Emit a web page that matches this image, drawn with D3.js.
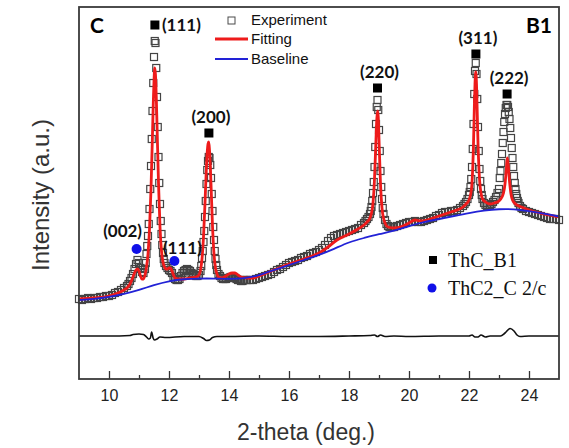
<!DOCTYPE html>
<html>
<head>
<meta charset="utf-8">
<title>XRD ThC B1</title>
<script src="https://d3js.org/d3.v7.min.js"></script>
<style>
  body { margin: 0; background: #fff; }
  text { font-family: "Liberation Sans", Arial, sans-serif; }
</style>
</head>
<body>
<script>
// measured pattern, [2-theta, intensity]
const experiment = [
  [9.0,80],[9.1,79],[9.2,80],[9.3,81],[9.4,80],[9.5,81],[9.6,81],[9.7,82],[9.8,82],[9.9,83],[10.0,83],
  [10.1,84],[10.2,86],[10.3,87],[10.4,89],[10.5,91],[10.6,93],
  [10.65,95],[10.7,98],[10.75,101],[10.8,105],[10.85,110],[10.9,115],[10.95,119],[11.0,116],[11.05,111],
  [11.1,107],[11.15,106],[11.2,110],
  [11.225,116],[11.25,125],[11.275,133],[11.3,143],[11.325,155],[11.35,170],[11.375,190],[11.4,213],
  [11.425,240],[11.45,268],[11.475,296],[11.5,322],[11.525,338],[11.55,336],[11.575,311],[11.6,282],
  [11.625,252],[11.65,222],[11.675,196],[11.7,175],[11.725,158],[11.75,145],[11.775,134],[11.8,126],
  [11.825,120],[11.85,116],
  [11.9,113],[11.95,111],[12.0,109],[12.05,108],[12.1,106],[12.15,102],[12.2,100],[12.25,99],[12.3,99],
  [12.35,100],[12.4,103],[12.45,106],[12.5,108],[12.55,109],[12.6,110],[12.65,109],[12.7,108],[12.75,106],
  [12.8,105],[12.85,104],[12.9,103],[12.95,103],[13.0,104],[13.05,108],
  [13.075,113],[13.1,121],[13.125,128],[13.15,137],[13.175,148],[13.2,162],[13.225,178],[13.25,195],
  [13.275,209],[13.3,218],[13.325,222],[13.35,221],[13.375,214],[13.4,201],[13.425,185],[13.45,168],
  [13.475,152],[13.5,139],[13.525,128],[13.55,120],[13.575,114],
  [13.6,109],[13.65,105],[13.7,103],[13.75,101],[13.8,100],[13.85,100],[13.9,100],[13.95,101],[14.0,101],
  [14.05,102],[14.1,102],[14.15,102],[14.2,101],[14.25,100],[14.3,99],[14.35,99],[14.4,98],[14.45,98],
  [14.5,99],[14.55,99],[14.6,99],
  [14.7,99],[14.8,99],[14.9,100],[15.0,101],[15.1,102],[15.2,103],[15.3,104],[15.4,105],[15.5,107],
  [15.6,109],[15.7,110],[15.8,112],[15.9,114],[16.0,116],[16.1,117],[16.2,118],[16.3,119],[16.4,121],
  [16.5,122],[16.6,123],[16.7,125],[16.8,126],[16.9,127],[17.0,129],[17.1,131],[17.2,134],[17.3,138],
  [17.4,141],[17.5,143],[17.6,144],[17.7,145],[17.8,146],[17.9,147],[18.0,148],[18.1,149],[18.2,150],
  [18.3,151],[18.4,154],
  [18.5,156],[18.55,158],[18.6,160],[18.65,162],[18.7,165],[18.725,168],[18.75,172],[18.775,178],
  [18.8,186],[18.825,197],[18.85,212],[18.875,232],[18.9,255],[18.925,272],[18.95,279],[18.975,269],
  [19.0,249],[19.025,228],[19.05,208],[19.075,192],[19.1,180],[19.125,171],[19.15,165],[19.2,159],
  [19.25,155],[19.3,153],[19.35,152],[19.4,152],[19.45,152],[19.5,152],
  [19.6,153],[19.7,154],[19.8,155],[19.9,156],[20.0,157],[20.1,157],[20.2,158],[20.3,157],[20.4,157],
  [20.5,158],[20.6,159],[20.7,160],[20.8,161],[20.9,163],[21.0,164],[21.1,166],[21.2,167],[21.3,167],
  [21.4,168],[21.5,168],[21.6,169],[21.7,171],
  [21.8,173],[21.85,175],[21.9,177],[21.95,180],[22.0,184],[22.025,187],[22.05,192],[22.075,200],
  [22.1,212],[22.125,230],[22.15,255],[22.175,285],[22.2,308],[22.225,316],[22.25,305],[22.275,280],
  [22.3,252],[22.325,228],[22.35,210],[22.375,198],[22.4,190],[22.425,184],[22.45,180],[22.5,176],
  [22.55,174],[22.6,173],[22.65,173],[22.7,174],[22.75,175],[22.8,177],[22.85,179],[22.9,182],
  [22.95,186],[23.0,190],
  [23.025,201],[23.05,208],[23.075,216],[23.1,225],[23.125,236],[23.15,247],[23.175,257],[23.2,265],
  [23.225,271],[23.25,274],[23.275,274],[23.3,272],[23.325,267],[23.35,260],[23.375,251],[23.4,241],
  [23.425,231],[23.45,221],[23.475,212],[23.5,203],[23.525,196],[23.55,190],[23.575,185],[23.6,181],
  [23.625,178],[23.65,176],[23.7,173],[23.75,171],[23.8,170],[23.9,168],
  [24.0,167],[24.1,166],[24.2,165],[24.3,164],[24.4,163],[24.5,162],[24.6,161],[24.7,160],[24.8,160],
  [24.9,160],[25.0,159]
];

const fitting = [
  [9.0,80],[9.5,81],[10.0,83],[10.3,86],[10.5,89],[10.6,91],[10.7,95],[10.8,102],[10.85,106],[10.9,109],
  [10.95,110],[11.0,108],[11.05,103],[11.1,100],[11.15,100],[11.2,104],[11.25,112],[11.3,125],[11.35,150],
  [11.4,190],[11.45,245],[11.475,275],[11.5,298],[11.525,311],[11.55,304],[11.575,283],[11.6,255],
  [11.65,196],[11.7,152],[11.75,128],[11.8,117],[11.85,112],[11.9,110],[11.95,110],[12.0,111],[12.05,111],
  [12.1,108],[12.15,104],[12.2,101],[12.3,100],[12.5,100],[12.7,101],[12.9,102],[13.0,104],[13.05,109],
  [13.1,120],[13.15,142],[13.2,176],[13.25,214],[13.3,235],[13.325,237],[13.35,229],[13.4,195],[13.45,153],
  [13.5,125],[13.55,111],[13.6,105],[13.65,102],[13.75,101],[13.9,103],[14.0,105],[14.1,106],[14.2,106],
  [14.3,104],[14.4,102],[14.6,101],[14.8,101],[15.0,103],[15.5,109],[16.0,115],[16.5,120],[17.0,126],
  [17.3,132],[17.6,139],[18.0,145],[18.3,150],[18.5,154],[18.6,157],[18.7,161],[18.75,166],[18.8,176],
  [18.85,200],[18.9,240],[18.925,259],[18.95,268],[18.975,262],[19.0,240],[19.05,195],[19.1,171],
  [19.15,161],[19.2,156],[19.3,152],[19.5,151],[19.8,153],[20.0,156],[20.2,159],[20.4,158],[20.6,159],
  [20.8,161],[21.0,163],[21.2,165],[21.4,167],[21.6,169],[21.8,172],[21.9,175],[22.0,179],[22.05,184],
  [22.1,196],[22.15,235],[22.175,268],[22.2,295],[22.225,307],[22.25,295],[22.275,266],[22.3,236],
  [22.35,200],[22.4,186],[22.45,180],[22.55,177],[22.7,175],[22.85,176],[23.0,178],[23.1,182],[23.15,186],
  [23.2,195],[23.25,212],[23.275,221],[23.3,216],[23.35,198],[23.4,185],[23.45,179],[23.55,175],
  [23.75,172],[24.0,169],[24.5,165],[25.0,162]
];

const baseline = [
  [9.0,79],[9.5,80],[10.0,82],[10.5,85],[11.0,89],[11.5,94],[12.0,98],[12.5,100],[13.0,100.5],
  [13.5,100.5],[14.0,100],[14.5,100.5],[15.0,103.5],[15.5,109],[16.0,114],[16.5,119],[17.0,124],
  [17.5,130],[18.0,137],[18.5,141],[19.0,145],[19.5,148],[20.0,153],[20.5,157],[21.0,160],[21.5,163],
  [22.0,166],[22.5,168.5],[23.0,170],[23.5,170],[24.0,168],[24.5,165.5],[25.0,162.5]
];

// experiment - fitting, drawn around an offset level
const residual = [
  [9.0,0],[10.0,0],[10.7,0.5],[10.8,1.5],[11.0,2],[11.15,1.5],[11.25,-1],[11.32,-3],[11.38,-2],[11.42,4],
  [11.47,-2],[11.52,-4],[11.6,-3],[11.7,-1],[11.9,-1.5],[12.5,-0.5],[13.0,-0.5],[13.15,-2.5],[13.25,-4.5],
  [13.35,-4],[13.45,-1.5],[13.6,-0.5],[14.0,-0.5],[15.0,0],[16.0,-0.5],[17.0,-0.5],[18.0,0],[18.7,0.5],
  [18.85,1],[18.95,-0.5],[19.05,1],[19.2,-0.5],[19.5,0],[20.0,-0.5],[21.0,0],[22.0,0],[22.1,1],[22.2,-1],
  [22.3,-1],[22.4,1],[22.55,-1],[22.7,0],[23.05,0],[23.2,3],[23.37,7.5],[23.5,5],[23.6,1],[23.7,-0.5],
  [24.0,0],[25.0,0]
];
const residualOffset = 43;

// ThC B1 reflections
const thcHkl = ["(111)", "(200)", "(220)", "(311)", "(222)"];
const thcTheta = [11.53, 13.33, 18.95, 22.23, 23.27];
const thcLevel = [354, 246, 291, 325, 285];

// ThC2 C2/c reflections
const thc2Hkl = ["(002)", "(111)"];
const thc2Theta = [10.92, 12.18];
const thc2Level = [130, 118];

const xTicks = [10, 12, 14, 16, 18, 20, 22, 24];
const xMinor = [11, 13, 15, 17, 19, 21, 23];

const W = 569, H = 448;
const m = { left: 79, right: 10, top: 7, bottom: 69 };

const svg = d3.select("body").append("svg").attr("width", W).attr("height", H);

const x = d3.scaleLinear().domain([9, 25]).range([m.left, W - m.right]);
const y = d3.scaleLinear().domain([0, 372]).range([H - m.bottom, m.top]);

const red = "#ee1b1b", blue = "#2222d6";

// experimental squares
svg.append("g")
  .selectAll("rect")
  .data(experiment)
  .join("rect")
  .attr("x", d => x(d[0]) - 3.5)
  .attr("y", d => y(d[1]) - 3.5)
  .attr("width", 7)
  .attr("height", 7)
  .attr("fill", "none")
  .attr("stroke", "#444")
  .attr("stroke-width", 1.2);

const line = d3.line().x(d => x(d[0])).y(d => y(d[1])).curve(d3.curveMonotoneX);

svg.append("path").datum(fitting)
  .attr("d", line).attr("fill", "none").attr("stroke", red).attr("stroke-width", 2.8);

svg.append("path").datum(baseline)
  .attr("d", d3.line().x(d => x(d[0])).y(d => y(d[1])).curve(d3.curveBasis))
  .attr("fill", "none").attr("stroke", blue).attr("stroke-width", 1.8);

svg.append("path").datum(residual)
  .attr("d", d3.line().x(d => x(d[0])).y(d => y(d[1] + residualOffset)).curve(d3.curveMonotoneX))
  .attr("fill", "none").attr("stroke", "#111").attr("stroke-width", 1.6);

// reflection markers
const hklFont = "Lato, 'Open Sans', sans-serif";
thcTheta.forEach((t, i) => {
  const cx = x(t), cy = y(thcLevel[i]);
  svg.append("rect").attr("x", cx - 4.5).attr("y", cy - 4.5)
    .attr("width", 9).attr("height", 9).attr("fill", "#000");
  const first = i === 0;
  svg.append("text")
    .attr("x", first ? cx + 7 : cx + 2)
    .attr("y", first ? cy + 6 : cy - 10)
    .attr("text-anchor", first ? "start" : "middle")
    .style("font-family", hklFont).style("font-weight", "bold").style("font-size", "17px")
    .attr("fill", "#111")
    .text(thcHkl[i]);
});

thc2Theta.forEach((t, i) => {
  const cx = x(t), cy = y(thc2Level[i]);
  svg.append("circle").attr("cx", cx).attr("cy", cy).attr("r", 5).attr("fill", "#1010e8");
  svg.append("text")
    .attr("x", i === 0 ? cx - 14 : cx + 8)
    .attr("y", i === 0 ? cy - 12 : cy - 7)
    .attr("text-anchor", "middle")
    .style("font-family", hklFont).style("font-weight", "bold").style("font-size", "17px")
    .attr("fill", "#111")
    .text(thc2Hkl[i]);
});

// x axis with inward ticks
const gx = svg.append("g").attr("transform", `translate(0,${H - m.bottom})`);
gx.call(d3.axisBottom(x).tickValues(xTicks).tickSizeInner(-8).tickSizeOuter(0).tickPadding(11));
gx.append("g").call(d3.axisBottom(x).tickValues(xMinor).tickSizeInner(-4).tickSizeOuter(0).tickFormat(""));
gx.selectAll(".domain").remove();
gx.selectAll("line").attr("stroke", "#333").attr("stroke-width", 1.3);
gx.selectAll("text").style("font-size", "16px").style("font-family", "'Liberation Sans', Arial, sans-serif").attr("fill", "#222");

// frame
svg.append("rect")
  .attr("x", m.left).attr("y", m.top)
  .attr("width", W - m.right - m.left).attr("height", H - m.bottom - m.top)
  .attr("fill", "none").attr("stroke", "#3a3a3a").attr("stroke-width", 1.8);

// axis titles
svg.append("text")
  .attr("x", 306).attr("y", 440)
  .attr("text-anchor", "middle")
  .style("font-size", "23px").attr("fill", "#333")
  .text("2-theta (deg.)");

svg.append("text")
  .attr("transform", "translate(49,195) rotate(-90)")
  .attr("text-anchor", "middle")
  .style("font-size", "24px").attr("fill", "#333")
  .text("Intensity (a.u.)");

// panel tags
svg.append("text").attr("x", 90).attr("y", 33)
  .style("font-family", hklFont).style("font-weight", "bold").style("font-size", "21px")
  .text("C");
svg.append("text").attr("x", 552).attr("y", 33).attr("text-anchor", "end")
  .style("font-family", hklFont).style("font-weight", "bold").style("font-size", "21px")
  .text("B1");

// top legend
const lg = svg.append("g").attr("transform", "translate(215,0)");
lg.append("rect").attr("x", 13).attr("y", 17).attr("width", 7).attr("height", 7)
  .attr("fill", "#fff").attr("stroke", "#4a4a4a");
lg.append("line").attr("x1", 0).attr("x2", 33).attr("y1", 39).attr("y2", 39)
  .attr("stroke", red).attr("stroke-width", 2.8);
lg.append("line").attr("x1", 0).attr("x2", 33).attr("y1", 59).attr("y2", 59)
  .attr("stroke", blue).attr("stroke-width", 1.8);
[["Experiment", 25], ["Fitting", 44], ["Baseline", 64]].forEach(([t, yy]) => {
  lg.append("text").attr("x", 36).attr("y", yy).style("font-size", "15px").attr("fill", "#111").text(t);
});

// phase legend
const pg = svg.append("g").attr("transform", "translate(433,0)");
pg.append("rect").attr("x", -4).attr("y", 256).attr("width", 8).attr("height", 8).attr("fill", "#000");
pg.append("circle").attr("cx", -1).attr("cy", 288).attr("r", 4.5).attr("fill", "#1010e8");
pg.append("text").attr("x", 15).attr("y", 267)
  .style("font-family", "'Liberation Serif', 'Times New Roman', serif").style("font-size", "20px")
  .attr("fill", "#111").text("ThC_B1");
pg.append("text").attr("x", 15).attr("y", 295)
  .style("font-family", "'Liberation Serif', 'Times New Roman', serif").style("font-size", "20px")
  .attr("fill", "#111").text("ThC2_C 2/c");
</script>
</body>
</html>
